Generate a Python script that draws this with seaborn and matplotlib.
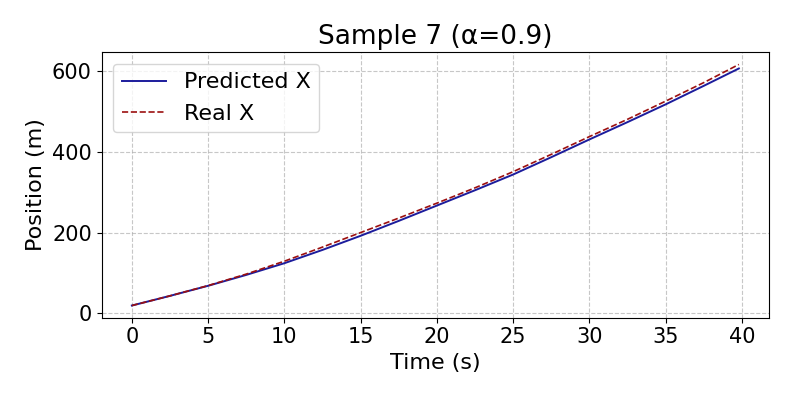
import matplotlib
matplotlib.use("Agg")
import matplotlib.pyplot as plt
import seaborn as sns
import pandas as pd

time_s = [0, 2.5, 5, 7.5, 10, 12.5, 15, 17.5, 20, 22.5, 25, 27.5, 30, 32.5, 35, 37.5, 39.8]
predicted_x = [19, 43, 68, 95, 124, 157, 192, 229, 267, 305, 344, 387, 431, 474, 518, 564, 607]
real_x = [19, 43, 68.5, 97, 129, 164, 200, 236, 273, 311, 351, 394, 438, 481, 526, 572, 617]

title = "Sample 7 (α=0.9)"
series_labels = ["Predicted X", "Real X"]

df_pred = pd.DataFrame({"t": time_s, "x": predicted_x})
df_real = pd.DataFrame({"t": time_s, "x": real_x})

plt.rcParams["font.family"] = ["DejaVu Sans"]

fig = plt.figure(figsize=(7.93, 3.97), dpi=100)
ax = fig.add_axes([0.128, 0.200, 0.842, 0.668])

sns.lineplot(data=df_pred, x="t", y="x", ax=ax, color="#1c1c9c", linewidth=1.4,
             label=series_labels[0], estimator=None)
sns.lineplot(data=df_real, x="t", y="x", ax=ax, color="#9c1010", linewidth=1.2,
             linestyle="--", label=series_labels[1], estimator=None)

ax.set_title(title, fontsize=19)
ax.set_xlabel("Time (s)", fontsize=16)
ax.set_ylabel("Position (m)", fontsize=16)
ax.tick_params(labelsize=15)
ax.set_xticks([0, 5, 10, 15, 20, 25, 30, 35, 40])
ax.set_yticks([0, 200, 400, 600])
ax.grid(True, linestyle="--", alpha=0.7)
ax.legend(loc="upper left", fontsize=16)

fig.savefig("out.png", dpi=100)
